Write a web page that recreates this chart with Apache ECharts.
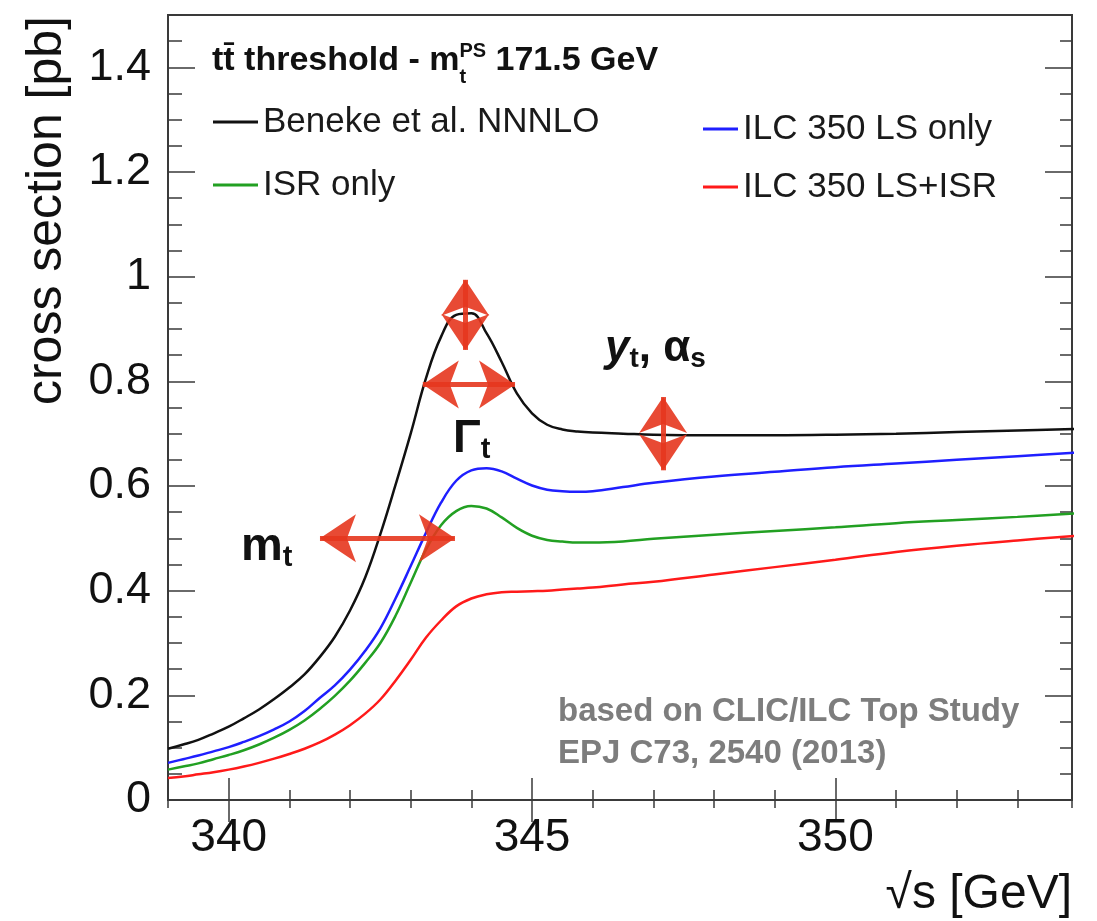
<!DOCTYPE html>
<html>
<head>
<meta charset="utf-8">
<script src="https://cdn.jsdelivr.net/npm/echarts@6/dist/echarts.min.js"></script>
<style>
html, body { margin: 0; padding: 0; background: #fff; }
#main { width: 1097px; height: 921px; }
</style>
</head>
<body>
<div id="main"></div>
<script>
// sqrt(s) grid in GeV, shared by all curves
const energy = [339, 339.25, 339.5, 339.75, 340, 340.25, 340.5, 340.75, 341, 341.25, 341.5, 341.75,
  342, 342.25, 342.5, 342.75, 343, 343.25, 343.5, 343.75, 344, 344.25, 344.5, 344.75,
  345, 345.25, 345.5, 345.75, 346, 346.5, 347, 348, 349, 350, 351, 352, 353, 354];
const benekeNNNLO = [0.098, 0.106, 0.115, 0.127, 0.140, 0.156, 0.173, 0.193, 0.215, 0.240, 0.273, 0.312,
  0.362, 0.425, 0.508, 0.602, 0.700, 0.805, 0.885, 0.927, 0.930, 0.892, 0.837, 0.777,
  0.739, 0.717, 0.708, 0.704, 0.702, 0.700, 0.698, 0.697, 0.697, 0.698, 0.700, 0.703, 0.706, 0.709];
const ilcLsOnly = [0.071, 0.078, 0.085, 0.093, 0.101, 0.111, 0.122, 0.135, 0.150, 0.170, 0.195, 0.219,
  0.249, 0.285, 0.328, 0.385, 0.447, 0.510, 0.568, 0.610, 0.630, 0.634, 0.628, 0.614,
  0.601, 0.593, 0.590, 0.589, 0.590, 0.598, 0.606, 0.618, 0.627, 0.636, 0.643, 0.650, 0.657, 0.664];
const isrOnly = [0.058, 0.064, 0.070, 0.078, 0.086, 0.095, 0.106, 0.119, 0.134, 0.152, 0.174, 0.199,
  0.228, 0.262, 0.300, 0.352, 0.415, 0.478, 0.525, 0.552, 0.562, 0.557, 0.540, 0.520,
  0.505, 0.497, 0.494, 0.492, 0.492, 0.494, 0.499, 0.507, 0.514, 0.521, 0.529, 0.535, 0.541, 0.548];
const ilcLsIsr = [0.042, 0.045, 0.049, 0.053, 0.058, 0.064, 0.071, 0.079, 0.088, 0.098, 0.110, 0.125,
  0.143, 0.165, 0.192, 0.228, 0.268, 0.310, 0.343, 0.370, 0.385, 0.393, 0.397, 0.398,
  0.399, 0.400, 0.402, 0.404, 0.406, 0.412, 0.417, 0.431, 0.445, 0.459, 0.474, 0.486, 0.496, 0.505];

const xMajorTicks = [340, 345, 350];
const yMajorTicks = [0, 0.2, 0.4, 0.6, 0.8, 1, 1.2, 1.4];

// red double arrows, tips in data coords
const arrowLines = [
  [[341.505, 0.5], [343.73, 0.5]],
  [[343.20, 0.794], [344.72, 0.794]],
  [[343.9, 0.994], [343.9, 0.860]],
  [[347.16, 0.770], [347.16, 0.630]]
];

const FONT = '"Liberation Sans", Arial, Helvetica, sans-serif';
const FRAME = '#3a3a3a';
const ARROW = '#e5361e';

function zip(vals) {
  return energy.map((e, i) => [e, vals[i]]);
}

const measure = document.createElement('canvas').getContext('2d');
function fontOf(p) {
  return (p.italic ? 'italic ' : '') + (p.bold ? 'bold ' : '') + p.size + 'px ' + FONT;
}
// places pieces of text on one baseline, "stack" puts a piece over the previous one
function textLine(x, baseline, pieces, color) {
  const els = [];
  let cx = x, stackX = x, stackW = 0;
  pieces.forEach(p => {
    measure.font = fontOf(p);
    const w = measure.measureText(p.text).width;
    let px;
    if (p.stack) {
      px = stackX;
      stackW = Math.max(stackW, w);
      cx = stackX + stackW;
    } else {
      px = cx;
      stackX = cx;
      stackW = w;
      cx += w;
    }
    els.push({
      type: 'text', x: px, y: baseline + (p.dy || 0) - 0.35 * p.size, silent: true,
      style: { text: p.text, font: fontOf(p), fill: p.color || color, align: 'left', verticalAlign: 'middle' }
    });
  });
  return els;
}

function xAx(position, len, custom, label) {
  return {
    type: 'value', gridIndex: 0, position: position, min: 339, max: 353.9, interval: 1,
    axisLine: { show: false }, splitLine: { show: false },
    axisTick: { show: true, inside: true, length: len, customValues: custom, lineStyle: { color: FRAME, width: 1.5 } },
    axisLabel: label ? {
      show: true, customValues: xMajorTicks, margin: 15, fontSize: 46, fontFamily: FONT, color: '#111'
    } : { show: false }
  };
}
function yAx(position, len, custom, label) {
  return {
    type: 'value', gridIndex: 0, position: position, min: 0, max: 1.5, interval: 0.05,
    axisLine: { show: false }, splitLine: { show: false },
    axisTick: { show: true, inside: true, length: len, customValues: custom, lineStyle: { color: FRAME, width: 1.5 } },
    axisLabel: label ? {
      show: true, customValues: yMajorTicks, margin: 17, fontSize: 45, fontFamily: FONT, color: '#111'
    } : { show: false }
  };
}

const graphics = [].concat(
  textLine(212, 73, [
    { text: 'tt\u0304 threshold - m', size: 34, bold: true },
    { text: 'PS', size: 20, bold: true, dy: -15 },
    { text: 't', size: 20, bold: true, dy: 11, stack: true },
    { text: ' 171.5 GeV', size: 34, bold: true }
  ], '#111'),
  textLine(241, 563, [
    { text: 'm', size: 47, bold: true },
    { text: 't', size: 29, bold: true, dy: 5 }
  ], '#111'),
  textLine(453, 455, [
    { text: 'Γ', size: 46, bold: true },
    { text: 't', size: 29, bold: true, dy: 5 }
  ], '#111'),
  textLine(605, 364, [
    { text: 'y', size: 44, bold: true, italic: true },
    { text: 't', size: 28, bold: true, dy: 5 },
    { text: ', α', size: 44, bold: true },
    { text: 's', size: 28, bold: true, dy: 5 }
  ], '#111'),
  textLine(558, 723, [{ text: 'based on CLIC/ILC Top Study', size: 33, bold: true }], '#7d7d7d'),
  textLine(558, 765, [{ text: 'EPJ C73, 2540 (2013)', size: 33, bold: true }], '#7d7d7d'),
  [
    {
      type: 'text', x: 1072, y: 912 - 0.35 * 48, silent: true,
      style: { text: '√s [GeV]', font: '48px ' + FONT, fill: '#111', align: 'right', verticalAlign: 'middle' }
    },
    {
      type: 'text', x: 47, y: 16, rotation: Math.PI / 2, silent: true,
      style: { text: 'cross section [pb]', font: '50px ' + FONT, fill: '#111', align: 'right', verticalAlign: 'middle' }
    }
  ]
);

function lineSeries(name, vals, color, extra) {
  return Object.assign({
    name: name, type: 'line', xAxisIndex: 0, yAxisIndex: 0,
    data: zip(vals), showSymbol: false, symbol: 'none', smooth: 0.4,
    lineStyle: { color: color, width: 2.5 }, itemStyle: { color: color },
    clip: true, animation: false
  }, extra || {});
}

const chart = echarts.init(document.getElementById('main'), null, { renderer: 'canvas' });
const option = {
  backgroundColor: '#fff',
  animation: false,
  grid: {
    left: 168, right: 25, top: 15, bottom: 121,
    show: true, borderColor: FRAME, borderWidth: 2, backgroundColor: 'transparent',
    containLabel: false, outerBoundsMode: 'none'
  },
  xAxis: [
    xAx('bottom', 10, undefined, true),
    xAx('bottom', 22, xMajorTicks, false),
    xAx('top', 8, undefined, false),
    xAx('top', 22, xMajorTicks, false)
  ],
  yAxis: [
    yAx('left', 14, undefined, true),
    yAx('left', 27, yMajorTicks, false),
    yAx('right', 12, undefined, false),
    yAx('right', 27, yMajorTicks, false)
  ],
  legend: [
    {
      left: 213, top: 102, orient: 'vertical', padding: 0, itemGap: 23,
      itemWidth: 45, itemHeight: 3, icon: 'rect', selectedMode: false,
      data: ['Beneke et al. NNNLO', 'ISR only'],
      textStyle: { fontSize: 35, lineHeight: 40, fontFamily: FONT, color: '#1a1a1a' }
    },
    {
      left: 703, top: 109, orient: 'vertical', padding: 0, itemGap: 18,
      itemWidth: 35, itemHeight: 3, icon: 'rect', selectedMode: false,
      data: ['ILC 350 LS only', 'ILC 350 LS+ISR'],
      textStyle: { fontSize: 35, lineHeight: 40, fontFamily: FONT, color: '#1a1a1a' }
    }
  ],
  series: [
    lineSeries('Beneke et al. NNNLO', benekeNNNLO, '#111111', {
      markLine: {
        silent: true, animation: false,
        symbol: ['arrow', 'arrow'], symbolSize: 36,
        label: { show: false },
        lineStyle: { color: ARROW, width: 5, type: 'solid', opacity: 0.9 },
        itemStyle: { color: ARROW },
        emphasis: { disabled: true },
        data: arrowLines.map(a => [{ coord: a[0] }, { coord: a[1] }])
      }
    }),
    lineSeries('ILC 350 LS only', ilcLsOnly, '#1f1fff'),
    lineSeries('ISR only', isrOnly, '#22a022'),
    lineSeries('ILC 350 LS+ISR', ilcLsIsr, '#ff1a1a')
  ],
  graphic: graphics
};
chart.setOption(option);
window.addEventListener('resize', function () {
  chart.resize();
});
</script>
</body>
</html>
